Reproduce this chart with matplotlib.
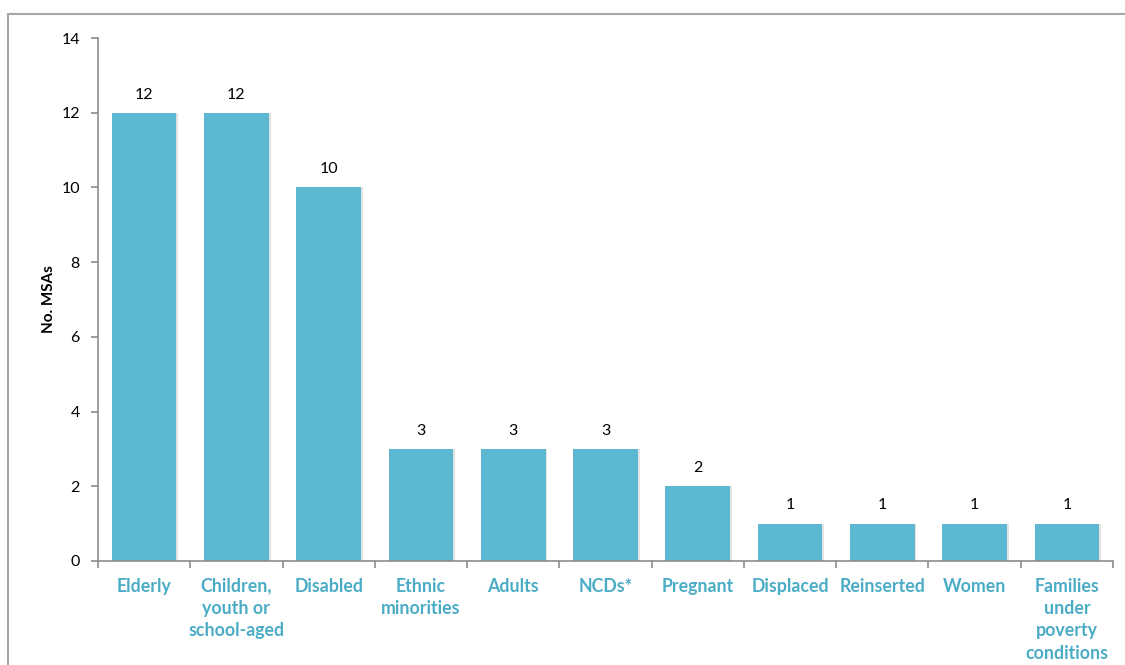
import matplotlib
matplotlib.use("Agg")
import matplotlib.pyplot as plt
from matplotlib.patches import Rectangle
import numpy as np

categories = ["Elderly", "Children,\nyouth or\nschool-aged", "Disabled", "Ethnic\nminorities",
              "Adults", "NCDs*", "Pregnant", "Displaced", "Reinserted", "Women",
              "Families\nunder\npoverty\nconditions"]
counts = [12, 12, 10, 3, 3, 3, 2, 1, 1, 1, 1]
y_ticks = [0, 2, 4, 6, 8, 10, 12, 14]

bar_color = "#5BB8D0"
label_color = "#4BACC6"
axis_color = "#8C8C8C"

plt.rcParams["font.family"] = ["Lato", "DejaVu Sans"]

fig = plt.figure(figsize=(11.25, 6.65), dpi=100)
ax = fig.add_axes([98 / 1125, 1 - 561 / 665, (1113 - 98) / 1125, (561 - 38) / 665])

x = np.arange(len(categories))
# soft shadow on the right edge of each bar
ax.bar(x + 0.02, counts, width=0.7, color="#E3E3E3", zorder=1)
bars = ax.bar(x, counts, width=0.7, color=bar_color, zorder=2)

for xi, v in zip(x, counts):
    ax.text(xi, v + 0.3, str(v), ha="center", va="bottom", fontsize=11.5, color="black")

ax.set_xlim(-0.5, len(categories) - 0.5)
ax.set_ylim(0, 14)
ax.set_yticks(y_ticks)
ax.set_yticklabels([str(t) for t in y_ticks], fontsize=11.5)
ax.set_xticks(x)
ax.set_xticklabels(categories, fontsize=12.8, fontweight="bold", color=label_color,
                   linespacing=1.38, va="top")
ax.tick_params(axis="x", which="major", length=0, pad=12)
ax.set_xticks(np.arange(-0.5, len(categories), 1.0), minor=True)
ax.tick_params(axis="x", which="minor", length=5, color=axis_color, width=1.2)
ax.tick_params(axis="y", length=5, color=axis_color, width=1.2, pad=8)

for s in ["top", "right"]:
    ax.spines[s].set_visible(False)
for s in ["left", "bottom"]:
    ax.spines[s].set_color(axis_color)
    ax.spines[s].set_linewidth(1.2)

ax.set_ylabel("No. MSAs", fontsize=11, fontweight="bold", labelpad=4)

# outer frame of the chart area
fig.patches.append(Rectangle((8 / 1125, -0.05), 1.2, 1 - 14 / 665 + 0.05,
                             transform=fig.transFigure, fill=False,
                             edgecolor="#A6A6A6", linewidth=1.5))

fig.savefig("out.png", dpi=100)
